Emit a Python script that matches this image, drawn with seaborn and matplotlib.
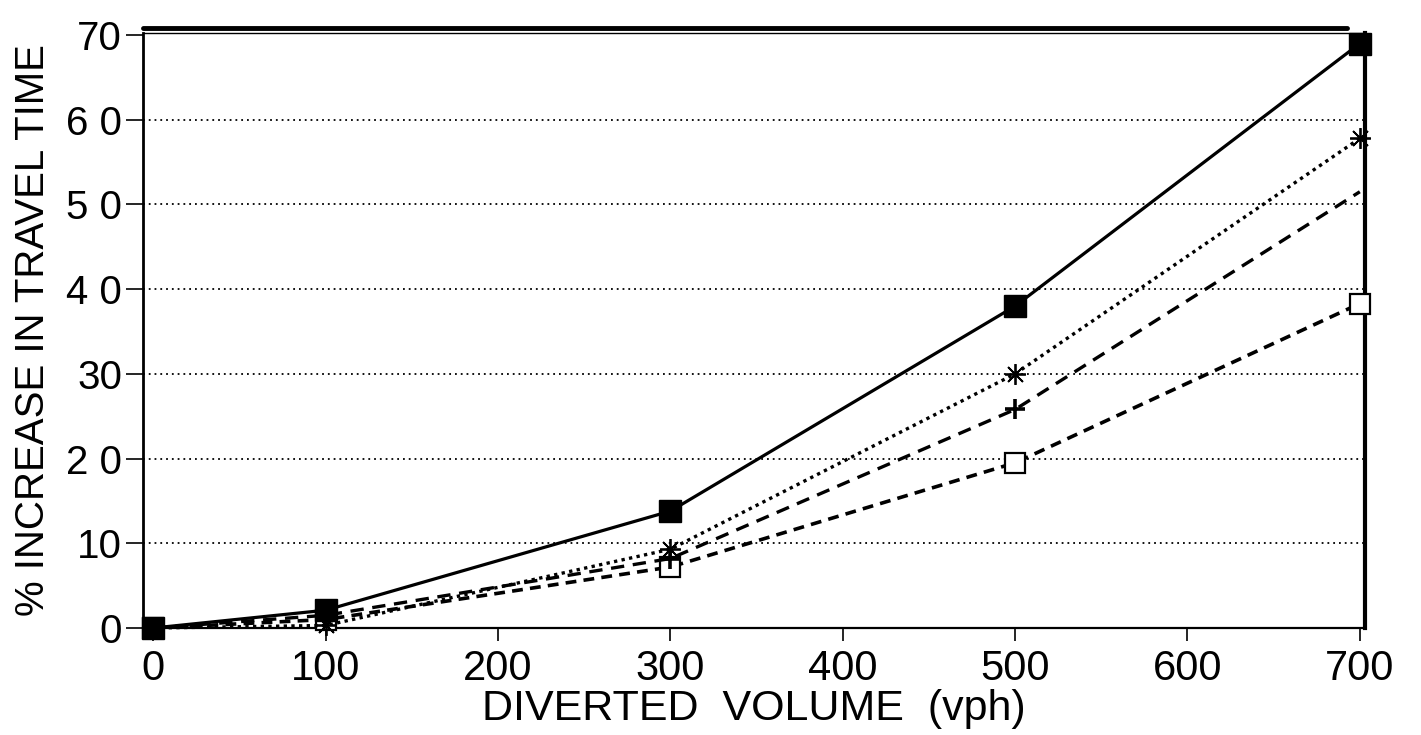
import pandas as pd
import seaborn as sns
import matplotlib.pyplot as plt

# values
volume = [0, 100, 300, 500, 700]
solid_square = [0, 2.1, 13.8, 38.0, 69.0]
asterisk = [0, 0.3, 9.3, 30.0, 57.8]
plus = [0, 1.5, 8.2, 25.8, 51.5]
open_square = [0, 1.0, 7.2, 19.5, 38.3]

x_ticks = [0, 100, 200, 300, 400, 500, 600, 700]
y_ticks = [0, 10, 20, 30, 40, 50, 60, 70]
y_tick_labels = ['0', '10', '2 0', '30', '4 0', '5 0', '6 0', '70']
grid_levels = [10, 20, 30, 40, 50, 60]

sns.set_style('white')
plt.rcParams['font.family'] = ['Liberation Sans', 'DejaVu Sans']
for key in ['text.color', 'axes.labelcolor', 'xtick.color', 'ytick.color']:
    plt.rcParams[key] = 'black'

df = pd.DataFrame({'volume': volume, 'solid': solid_square, 'star': asterisk,
                   'plus': plus, 'open': open_square})

fig = plt.figure(figsize=(14.21, 7.35), dpi=100)
ax = fig.add_axes([143 / 1421, 1 - 628 / 735, (1365 - 143) / 1421, (628 - 33) / 735])

# dotted horizontal grid
for lvl in grid_levels:
    ax.axhline(lvl, color='black', lw=1.3, ls=(0, (1, 2.2)), zorder=1)

common = dict(color='black', clip_on=False, zorder=3)

sns.lineplot(data=df, x='volume', y='open', ax=ax, lw=2.6, linestyle=(0, (3.0, 2.0)),
             marker='s', markersize=14, markerfacecolor='white',
             markeredgecolor='black', markeredgewidth=1.6, **common)
sns.lineplot(data=df, x='volume', y='plus', ax=ax, lw=2.4, linestyle=(0, (4.0, 2.6)),
             marker='+', markersize=15, markeredgecolor='black',
             markeredgewidth=2.6, markevery=[1, 2, 3], **common)
sns.lineplot(data=df, x='volume', y='star', ax=ax, lw=2.4, linestyle=(0, (1, 1.3)),
             marker=(8, 2, 0), markersize=15, markeredgecolor='black',
             markeredgewidth=1.3, **common)
sns.lineplot(data=df, x='volume', y='solid', ax=ax, lw=2.3, linestyle='-',
             marker='s', markersize=16, markerfacecolor='black',
             markeredgecolor='black', markeredgewidth=1, **common)

ax.set_xlim(-6, 703)
ax.set_ylim(0, 70.24)

ax.set_xticks(x_ticks)
ax.set_xticklabels([str(v) for v in x_ticks])
ax.set_yticks(y_ticks)
ax.set_yticklabels(y_tick_labels)
ax.tick_params(axis='x', direction='out', length=9, width=1.2, pad=6, labelsize=30)
ax.tick_params(axis='y', direction='out', length=12, width=1.2, pad=3, labelsize=29)
ax.tick_params(left=True, bottom=True)

ax.set_xlabel('DIVERTED  VOLUME  (vph)', fontsize=31, labelpad=0)
ax.set_ylabel('% INCREASE IN TRAVEL TIME', fontsize=29, labelpad=10)

for side, lw in [('left', 2.0), ('bottom', 1.6), ('top', 1.0), ('right', 3.0)]:
    ax.spines[side].set_visible(True)
    ax.spines[side].set_color('black')
    ax.spines[side].set_linewidth(lw)

# heavy frame line along the top as in the scan
ax.plot([0.0, 0.985], [1.009, 1.009], transform=ax.transAxes, color='black',
        lw=3.5, clip_on=False, zorder=4)

leg = ax.get_legend()
if leg is not None:
    leg.remove()

fig.savefig('out.png', dpi=100)
